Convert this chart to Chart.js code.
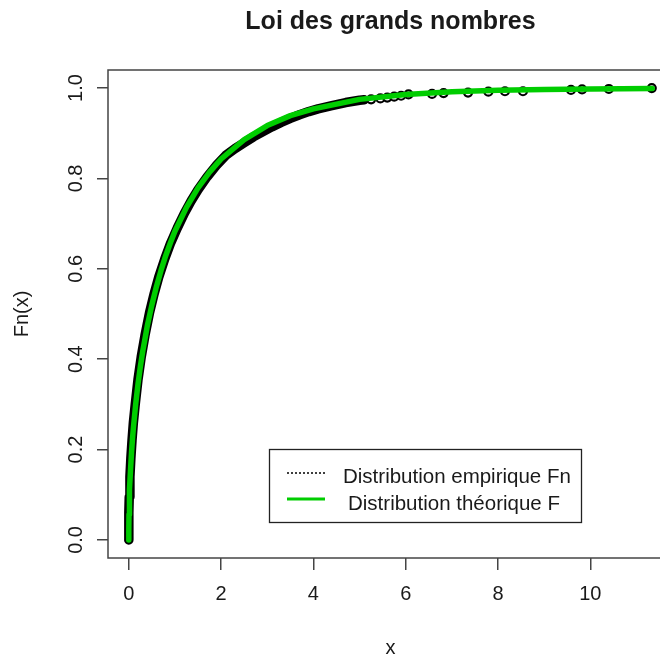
<!DOCTYPE html>
<html>
<head>
<meta charset="utf-8">
<script src="https://cdn.jsdelivr.net/npm/chart.js@4"></script>
<style>
  html, body { margin: 0; padding: 0; background: #fff; overflow: hidden; }
  #wrap { width: 700px; height: 656px; }
</style>
</head>
<body>
<div id="wrap"><canvas id="chart" width="700" height="656"></canvas></div>
<script>
// Chart data
const chartTitle = 'Loi des grands nombres';
const xTitle = 'x';
const yTitle = 'Fn(x)';
const xTicks = [0, 2, 4, 6, 8, 10];
const yTicks = [0, 0.2, 0.4, 0.6, 0.8, 1.0];
const legendLabels = ['Distribution empirique Fn', 'Distribution théorique F'];

// theoretical F
const theoX = [0, 0.001, 0.005, 0.01, 0.02, 0.04, 0.06, 0.08, 0.1, 0.15, 0.2, 0.25, 0.3, 0.4, 0.5, 0.6, 0.7, 0.8, 0.9, 1.0,
  1.25, 1.5, 1.75, 2.0, 2.5, 3.0, 3.5, 4.0, 5.0, 6.0, 7.0, 8.0, 9.0, 10.0, 11.34];
const theoF = [0, 0.025, 0.056, 0.08, 0.112, 0.159, 0.194, 0.223, 0.248, 0.301, 0.345, 0.383, 0.416, 0.473, 0.52, 0.561, 0.597, 0.629, 0.657, 0.683,
  0.736, 0.779, 0.814, 0.843, 0.886, 0.917, 0.939, 0.954, 0.975, 0.986, 0.992, 0.995, 0.997, 0.998, 0.999];

// empirical Fn, dense part (black band)
const empX = [0, 0, 0.003, 0.01, 0.025, 0.045, 0.07, 0.1, 0.14, 0.2, 0.27, 0.35, 0.45, 0.55, 0.65, 0.78, 0.9, 1.05, 1.2, 1.35,
  1.5, 1.7, 1.9, 2.1, 2.3, 2.5, 2.7, 2.9, 3.1, 3.3, 3.5, 3.7, 3.9, 4.1, 4.4, 4.7, 5.0, 5.1];
const empFn = [0, 0.04, 0.06, 0.095, 0.14, 0.18, 0.22, 0.26, 0.3, 0.355, 0.405, 0.452, 0.503, 0.545, 0.582, 0.622, 0.655, 0.69, 0.722, 0.75,
  0.775, 0.804, 0.829, 0.851, 0.866, 0.879, 0.892, 0.903, 0.914, 0.924, 0.933, 0.941, 0.948, 0.954, 0.961, 0.968, 0.973, 0.974];

// empirical Fn, isolated points in the tail
const tailX = [5.25, 5.45, 5.6, 5.75, 5.9, 6.06, 6.57, 6.82, 7.35, 7.79, 8.15, 8.54, 9.58, 9.82, 10.4, 11.33];
const tailFn = [0.975, 0.977, 0.979, 0.981, 0.983, 0.986, 0.987, 0.989, 0.99, 0.992, 0.993, 0.993, 0.996, 0.997, 0.998, 1.0];

const toXY = (xs, ys) => xs.map((x, i) => ({ x, y: ys[i] }));

const FONT = "'Liberation Sans', Arial, sans-serif";
const INK = '#1a1a1a';
const FRAME = '#444';
const GREEN = '#00cd00';

// box, title, rotated y labels and legend, the R way
const rDecor = {
  id: 'rDecor',
  afterDraw(chart) {
    const { ctx, chartArea: a, scales } = chart;
    ctx.save();
    ctx.strokeStyle = FRAME;
    ctx.lineWidth = 1.5;
    ctx.strokeRect(a.left, a.top, a.right - a.left, a.bottom - a.top);

    ctx.fillStyle = INK;
    ctx.font = 'bold 25px ' + FONT;
    ctx.textAlign = 'center';
    ctx.textBaseline = 'alphabetic';
    ctx.fillText(chartTitle, (a.left + a.right) / 2, 29);

    ctx.font = '20px ' + FONT;
    yTicks.forEach(v => {
      ctx.save();
      ctx.translate(82, scales.y.getPixelForValue(v));
      ctx.rotate(-Math.PI / 2);
      ctx.fillText(v.toFixed(1), 0, 0);
      ctx.restore();
    });

    // legend
    ctx.strokeStyle = '#222';
    ctx.lineWidth = 1.3;
    ctx.strokeRect(269.5, 449.5, 312, 73);
    ctx.beginPath();
    ctx.setLineDash([2, 2]);
    ctx.lineWidth = 1.5;
    ctx.strokeStyle = '#000';
    ctx.moveTo(287, 473);
    ctx.lineTo(325, 473);
    ctx.stroke();
    ctx.setLineDash([]);
    ctx.beginPath();
    ctx.strokeStyle = GREEN;
    ctx.lineWidth = 3;
    ctx.moveTo(287, 499);
    ctx.lineTo(325, 499);
    ctx.stroke();
    ctx.textAlign = 'left';
    ctx.fillStyle = INK;
    ctx.font = '20.5px ' + FONT;
    ctx.fillText(legendLabels[0], 343, 483);
    ctx.fillText(legendLabels[1], 348, 510);
    ctx.restore();
  }
};

new Chart(document.getElementById('chart').getContext('2d'), {
  type: 'line',
  data: {
    datasets: [
      {
        label: legendLabels[1],
        data: toXY(theoX, theoF),
        borderColor: GREEN,
        borderWidth: 5.5,
        borderCapStyle: 'round',
        borderJoinStyle: 'round',
        pointRadius: 0,
        tension: 0,
        order: 0
      },
      {
        label: legendLabels[0] + ' (queue)',
        data: toXY(tailX, tailFn),
        showLine: false,
        pointRadius: 4,
        pointBorderWidth: 2.2,
        pointBorderColor: '#000',
        pointBackgroundColor: '#fff',
        order: 1
      },
      {
        label: legendLabels[0],
        data: toXY(empX, empFn),
        borderColor: '#000',
        borderWidth: 9.5,
        borderCapStyle: 'round',
        borderJoinStyle: 'round',
        pointRadius: 0,
        tension: 0,
        order: 2
      }
    ]
  },
  options: {
    responsive: false,
    animation: false,
    layout: { padding: { left: 0, right: 27, top: 70, bottom: 0 } },
    plugins: {
      legend: { display: false },
      tooltip: { enabled: false }
    },
    scales: {
      x: {
        type: 'linear',
        min: -0.45,
        max: 11.79,
        afterBuildTicks: s => { s.ticks = xTicks.map(v => ({ value: v })); },
        afterFit: s => { s.height = 98; },
        grid: { drawOnChartArea: false, drawTicks: true, tickLength: 12, color: FRAME, lineWidth: 1.5 },
        border: { display: false },
        ticks: { color: INK, font: { family: FONT, size: 20 }, padding: 12, maxRotation: 0, autoSkip: false },
        title: { display: true, text: xTitle, color: INK, font: { family: FONT, size: 20, lineHeight: '16px' }, padding: { top: 0, bottom: 0 } }
      },
      y: {
        type: 'linear',
        min: -0.04,
        max: 1.04,
        afterBuildTicks: s => { s.ticks = yTicks.map(v => ({ value: v })); },
        afterFit: s => { s.width = 108; },
        grid: { drawOnChartArea: false, drawTicks: true, tickLength: 11, color: FRAME, lineWidth: 1.5 },
        border: { display: false },
        ticks: { display: false },
        title: { display: true, text: yTitle, color: INK, font: { family: FONT, size: 20 }, padding: { top: 10, bottom: 0 } }
      }
    }
  },
  plugins: [rDecor]
});
</script>
</body>
</html>
